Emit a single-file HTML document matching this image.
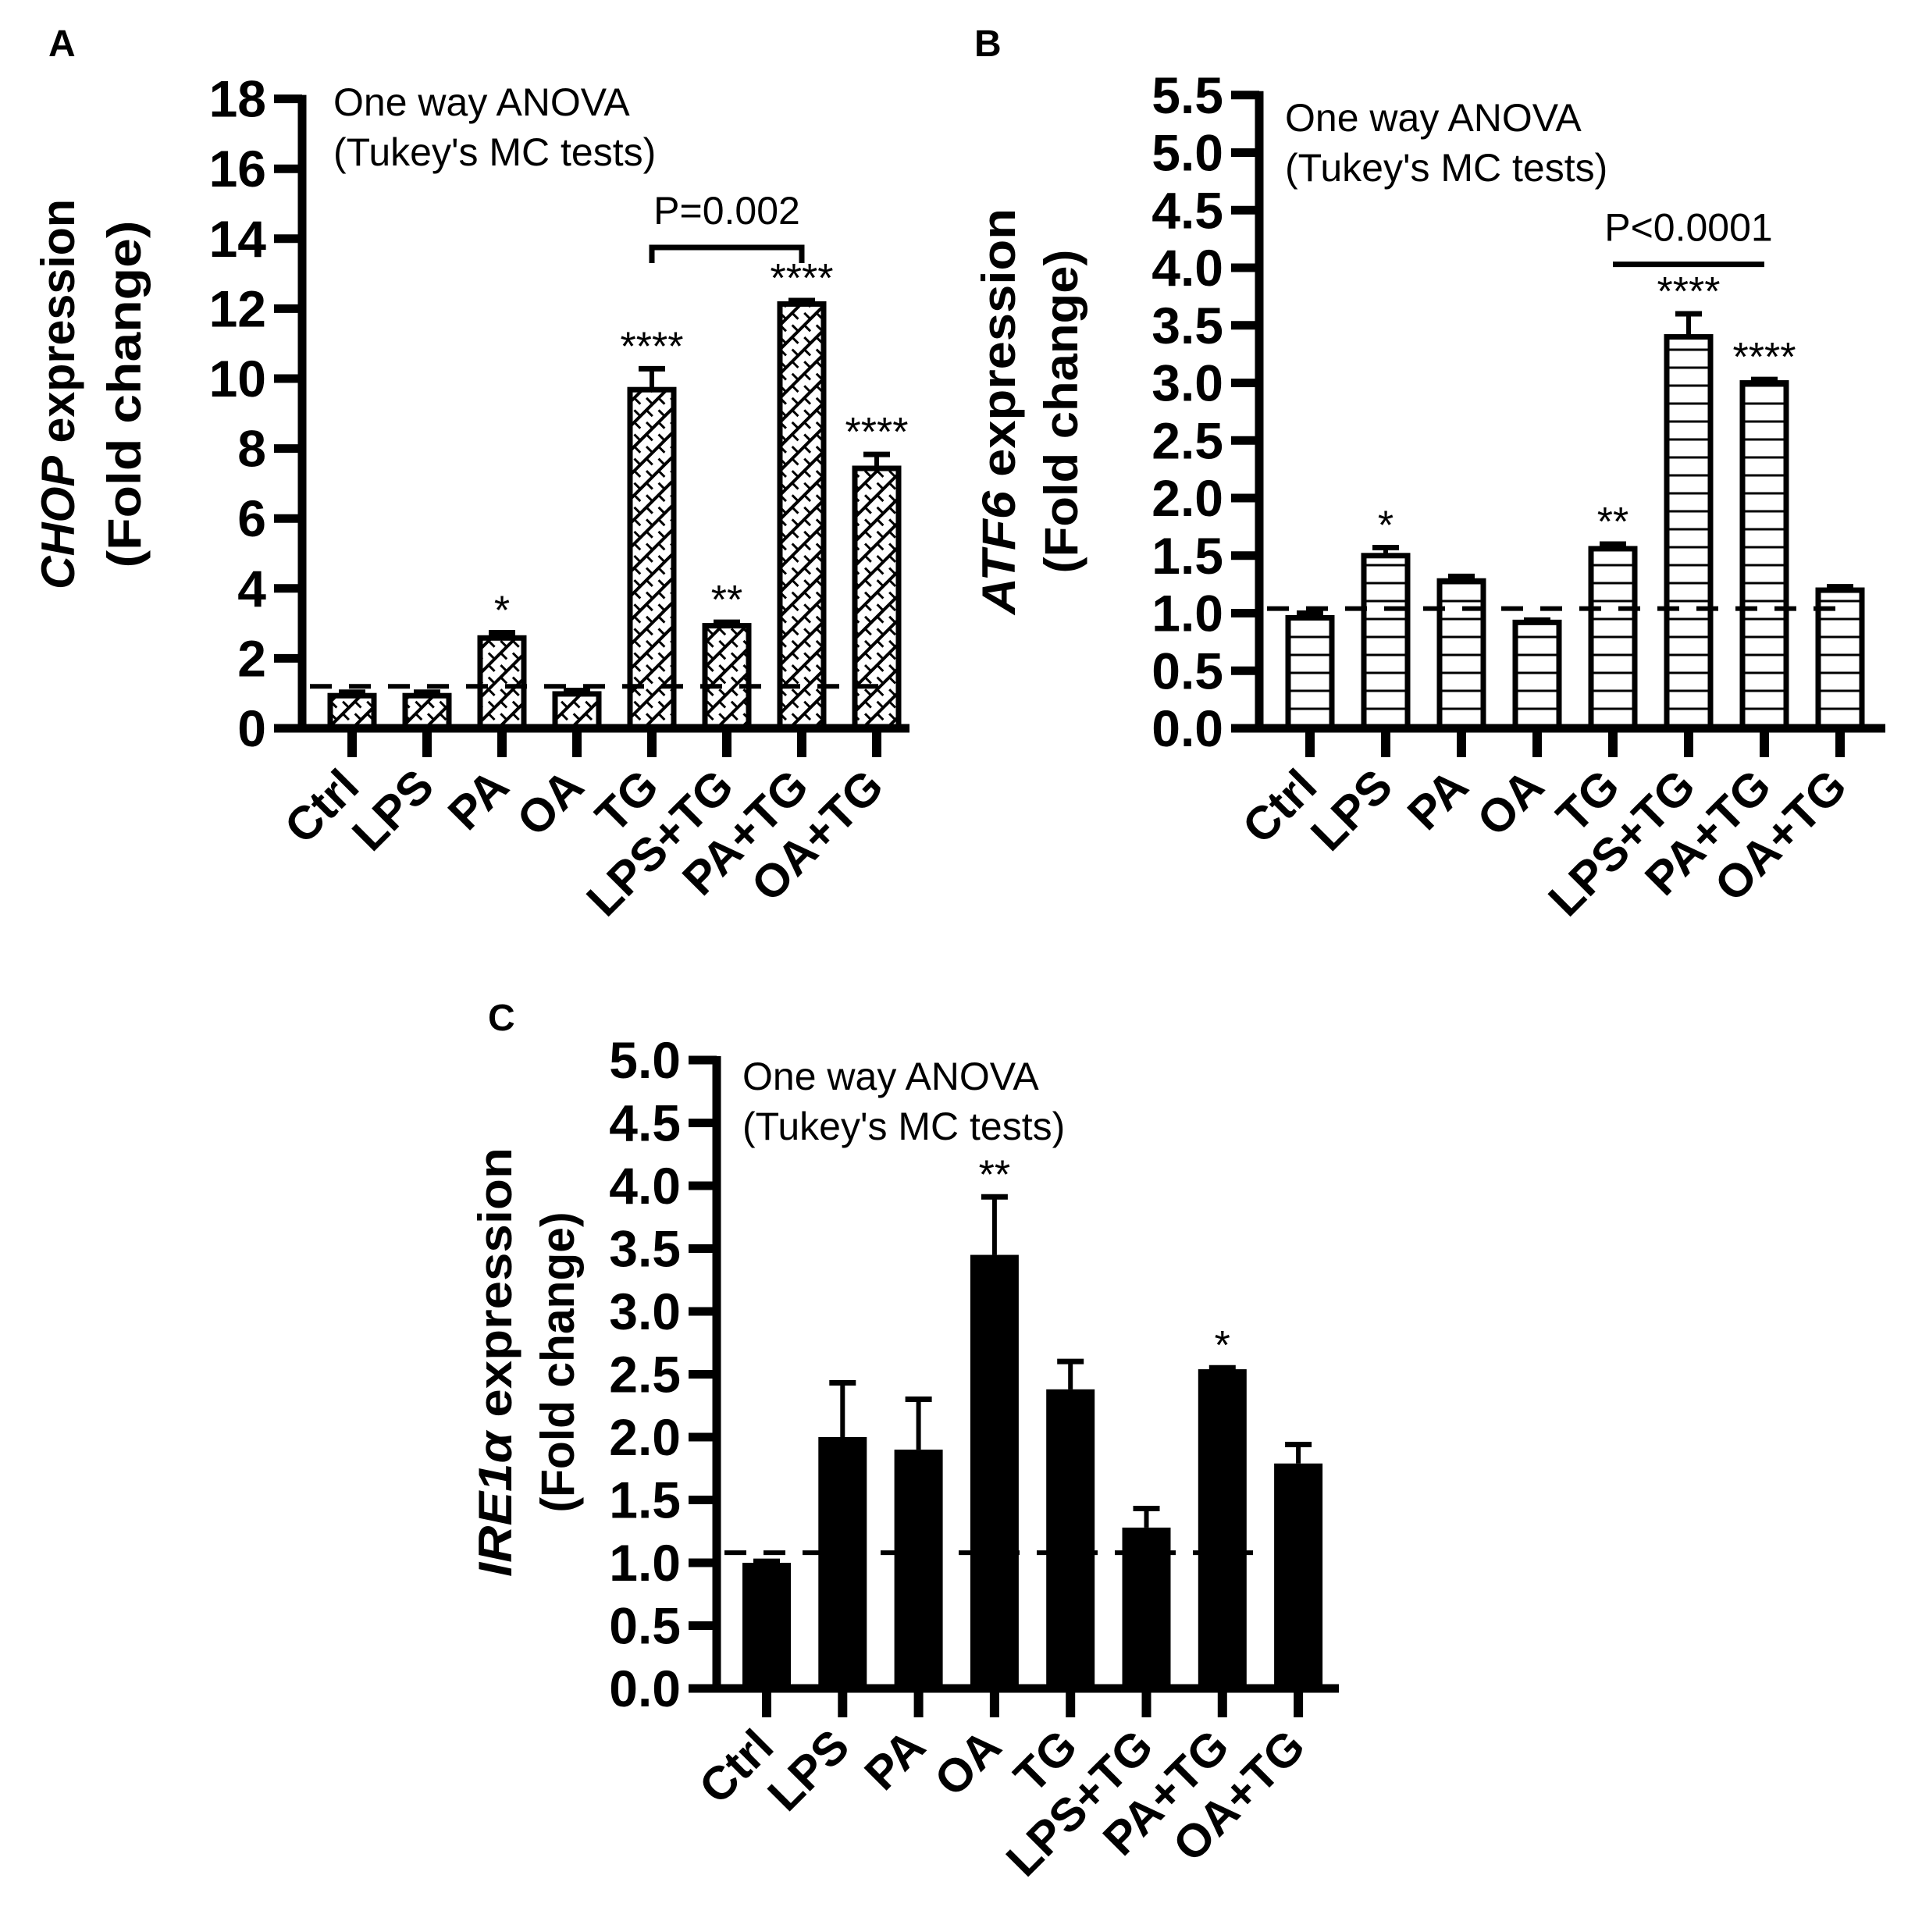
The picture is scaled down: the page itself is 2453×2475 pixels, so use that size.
<!DOCTYPE html>
<html><head><meta charset="utf-8"><style>
body{margin:0;background:#fff}
svg{display:block}
text{font-family:"Liberation Sans",Arial,sans-serif}
</style></head><body>
<svg id="fig" width="2453" height="2475" viewBox="0 0 2453 2475" xmlns="http://www.w3.org/2000/svg">
<defs>
<pattern id="hatchA" patternUnits="userSpaceOnUse" width="22" height="22" patternTransform="rotate(-45)">
<rect width="22" height="22" fill="#fff"/>
<line x1="0" y1="11" x2="22" y2="11" stroke="#000" stroke-width="4"/>
<line x1="5" y1="0" x2="5" y2="11" stroke="#000" stroke-width="3"/>
<line x1="16" y1="11" x2="16" y2="22" stroke="#000" stroke-width="3"/>
</pattern>
<pattern id="hatchB" patternUnits="userSpaceOnUse" width="20" height="23">
<rect width="20" height="23" fill="#fff"/>
<line x1="0" y1="11" x2="20" y2="11" stroke="#000" stroke-width="3"/>
</pattern>
</defs>
</svg>
<script>
const cats = ["Ctrl","LPS","PA","OA","TG","LPS+TG","PA+TG","OA+TG"];
const valsA = [1.0,1.0,2.65,1.05,9.75,3.0,12.2,7.5];
const errA = [0.1,0.1,0.15,0.1,0.6,0.1,0.1,0.4];
const starsA = ["","","*","","****","**","****","****"];
const ticksA = [0,2,4,6,8,10,12,14,16,18];
const valsB = [0.98,1.52,1.3,0.94,1.58,3.42,3.02,1.22];
const errB = [0.04,0.07,0.04,0.02,0.04,0.2,0.03,0.03];
const starsB = ["","*","","","**","****","****",""];
const ticksB = [0,0.5,1,1.5,2,2.5,3,3.5,4,4.5,5,5.5];
const valsC = [1.0,2.0,1.9,3.45,2.38,1.28,2.54,1.79];
const errC = [0.03,0.45,0.42,0.48,0.24,0.17,0.03,0.17];
const starsC = ["","","","**","","","*",""];
const ticksC = [0,0.5,1,1.5,2,2.5,3,3.5,4,4.5,5];

const NS="http://www.w3.org/2000/svg";
const svg=document.getElementById('fig');
function mk(tag,attrs,parent,txt){const e=document.createElementNS(NS,tag);for(const k in attrs)e.setAttribute(k,attrs[k]);if(txt!==undefined)e.textContent=txt;(parent||svg).appendChild(e);return e;}

function panel(o){
  const g=mk('g',{});
  
  
  const y=v=>o.y0-(v-o.vmin)*o.ppu;
  const x=i=>o.x0+i*o.step;
  const L=mk('text',{x:o.letter[0],y:o.letter[1],'font-size':48,'font-weight':'bold'},g,o.id.toUpperCase());
  
  
  const t1=mk('text',{transform:`translate(${o.tx1},${o.tcy}) rotate(-90)`,'text-anchor':'middle','font-size':60,'font-weight':'bold',textLength:o.tl1,lengthAdjust:'spacingAndGlyphs'},g);
  mk('tspan',{'font-style':'italic'},t1,o.gene);
  mk('tspan',{},t1,' expression');
  
  
  const t2=mk('text',{transform:`translate(${o.tx2},${o.tcy}) rotate(-90)`,'text-anchor':'middle','font-size':60,'font-weight':'bold',textLength:o.tl2,lengthAdjust:'spacingAndGlyphs'},g,'(Fold change)');
  
  
  const a1=mk('text',{x:o.ax,y:o.ay,'font-size':50},g,'One way ANOVA');
  
  
  const a2=mk('text',{x:o.ax,y:o.ay+64,'font-size':50},g,"(Tukey's MC tests)");
  
  
  o.vals.forEach((v,i)=>{
    const cx=x(i),bw=62,top=y(v),et=y(v+o.err[i]);
    const ew=mk('line',{x1:cx,y1:top,x2:cx,y2:et,stroke:'#000','stroke-width':6},g);
    
    
    mk('line',{x1:cx-17,y1:et+3,x2:cx+17,y2:et+3,stroke:'#000','stroke-width':7},g);
    let r;
    if(o.fill==='black') r=mk('rect',{x:cx-bw/2,y:top,width:bw,height:o.y0-top,fill:'#000'},g);
    else r=mk('rect',{x:cx-bw/2+3,y:top+3,width:bw-6,height:o.y0-top-3,fill:o.fill,stroke:'#000','stroke-width':7},g);
    
    
    if(o.stars[i]){
      const s=mk('text',{x:cx,y:et-8,'text-anchor':'middle','font-size':52},g,o.stars[i]);
      
      
    }
    const tk=mk('line',{x1:cx,y1:o.y0,x2:cx,y2:o.y0+37,stroke:'#000','stroke-width':12},g);
    
    
    const lb=mk('text',{transform:`translate(${cx+12},${o.y0+78}) rotate(-45)`,'text-anchor':'end','font-size':60,'font-weight':'bold'},g,cats[i]);
    
    
  });
  const d=mk('line',{x1:o.axX+10,y1:y(o.ref),x2:o.dEnd,y2:y(o.ref),stroke:'#000','stroke-width':6,'stroke-dasharray':'28 22'},g);
  
  
  const ya=mk('line',{x1:o.axX,y1:y(o.ticks[o.ticks.length-1])-5,x2:o.axX,y2:o.y0+5,stroke:'#000','stroke-width':11},g);
  
  
  const xa=mk('line',{x1:o.axX-36,y1:o.y0,x2:o.xEnd,y2:o.y0,stroke:'#000','stroke-width':11},g);
  
  
  o.ticks.forEach(t=>{
    mk('line',{x1:o.axX-36,y1:y(t),x2:o.axX,y2:y(t),stroke:'#000','stroke-width':11},g);
    const tl=mk('text',{x:o.axX-46,y:y(t)+23,'text-anchor':'end','font-size':66,'font-weight':'bold'},g,o.dec?t.toFixed(1):String(t));
    
    
  });
  if(o.bracket){
    const b=o.bracket,by=y(b.v),x1=x(b.i1),x2=x(b.i2);
    const br=mk('path',{d:b.legs?`M${x1},${by+20} L${x1},${by} L${x2},${by} L${x2},${by+20}`:`M${x1},${by} L${x2},${by}`,fill:'none',stroke:'#000','stroke-width':7},g);
    
    
    const bt=mk('text',{x:(x1+x2)/2,y:by-30,'text-anchor':'middle','font-size':50},g,b.label);
    
    
  }
}

panel({id:'a',gene:'CHOP',vals:valsA,err:errA,stars:starsA,ticks:ticksA,dec:false,vmin:0,
  y0:933,ppu:44.8,x0:451,step:96,axX:387,xEnd:1165,dEnd:1125,fill:'url(#hatchA)',ref:1.2,
  letter:[62,72],tx1:95,tx2:180,tcy:505,tl1:500,tl2:445,ax:427,ay:148,
  bracket:{v:13.75,i1:4,i2:6,label:'P=0.002',legs:true}});
panel({id:'b',gene:'ATF6',vals:valsB,err:errB,stars:starsB,ticks:ticksB,dec:true,vmin:0,
  y0:933,ppu:147.5,x0:1678,step:97,axX:1613,xEnd:2415,dEnd:2370,fill:'url(#hatchB)',ref:1.04,
  letter:[1248,72],tx1:1300,tx2:1380,tcy:527,tl1:520,tl2:415,ax:1646,ay:168,
  bracket:{v:4.03,i1:4,i2:6,label:'P<0.0001',legs:false}});
panel({id:'c',gene:'IRE1α',vals:valsC,err:errC,stars:starsC,ticks:ticksC,dec:true,vmin:0,
  y0:2163,ppu:161,x0:982,step:97.3,axX:918,xEnd:1715,dEnd:1605,fill:'black',ref:1.08,
  letter:[625,1320],tx1:655,tx2:735,tcy:1745,tl1:550,tl2:385,ax:951,ay:1396});
</script>
</body></html>
